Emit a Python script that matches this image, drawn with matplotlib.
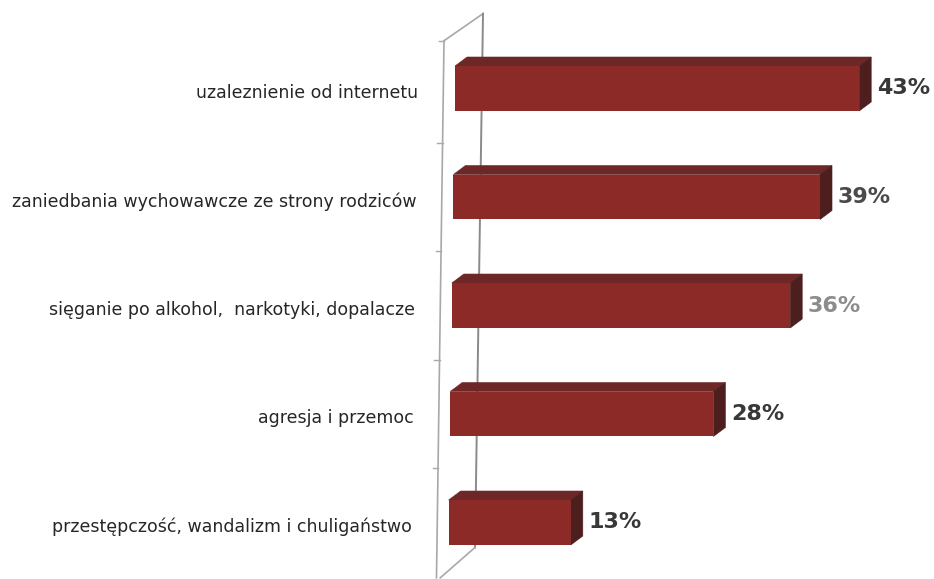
import matplotlib
matplotlib.use("Agg")
import matplotlib.pyplot as plt
from matplotlib.patches import Polygon

# dane z wykresu (kolejnosc od gory)
categories = [
    "uzaleznienie od internetu",
    "zaniedbania wychowawcze ze strony rodziców",
    "sięganie po alkohol,  narkotyki, dopalacze",
    "agresja i przemoc",
    "przestępczość, wandalizm i chuligaństwo",
]
values = [43, 39, 36, 28, 13]
value_labels = ["43%", "39%", "36%", "28%", "13%"]
value_colors = ["#383838", "#4a4a4a", "#8c8c8c", "#383838", "#383838"]

FRONT = "#8c2a27"
TOP = "#6e2727"
SIDE = "#4c1e1e"
WALL = "#a8a8a8"

W, H = 934, 579
PX_PER_PCT = 9.4
ROW_PX = 108.5
X0_PX, Y0_PX = 452, 88.5

fig = plt.figure(figsize=(W / 100, H / 100), dpi=100)
ax = fig.add_axes([0, 0, 1, 1])
ax.set_xlim(-X0_PX / PX_PER_PCT, (W - X0_PX) / PX_PER_PCT)
ax.set_ylim((H - Y0_PX) / ROW_PX, -Y0_PX / ROW_PX)
ax.axis("off")

bar_h = 45 / ROW_PX
dx = 12 / PX_PER_PCT      # glebokosc 3D w poziomie
dy = -9 / ROW_PX          # glebokosc 3D w pionie
tilt = -0.17              # lekkie przechylenie sciany na kategorie


def wall_x(y, x_top, y_top, x_bot, y_bot):
    return x_top + (x_bot - x_top) * (y - y_top) / (y_bot - y_top)


# sciana (os kategorii) w perspektywie
front_top, front_bot = (-0.85, -0.44), (-1.65, 4.51)
back_top, back_bot = (3.3, -0.69), (2.45, 4.23)
ax.plot([front_top[0], front_bot[0]], [front_top[1], front_bot[1]], color=WALL, lw=1.2, zorder=1)
ax.plot([front_top[0], back_top[0]], [front_top[1], back_top[1]], color=WALL, lw=1.2, zorder=1)
ax.plot([back_top[0], back_bot[0]], [back_top[1], back_bot[1]], color="#8a8a8a", lw=1.4, zorder=1)
ax.plot([back_bot[0], front_bot[0] + 0.4], [back_bot[1], front_bot[1]], color=WALL, lw=1.2, zorder=1)
for yt in [front_top[1], 0.5, 1.5, 2.5, 3.5]:
    xt = wall_x(yt, *front_top, *front_bot)
    ax.plot([xt - 0.55, xt], [yt, yt], color=WALL, lw=1.0, zorder=1)

for i, (cat, v) in enumerate(zip(categories, values)):
    x0 = 0.32 + tilt * i
    x1 = x0 + v
    yt, yb = i - bar_h / 2, i + bar_h / 2
    top = Polygon([(x0, yt), (x0 + dx, yt + dy), (x1 + dx, yt + dy), (x1, yt)],
                  closed=True, fc=TOP, ec=TOP, lw=0.4, zorder=3)
    side = Polygon([(x1, yt), (x1 + dx, yt + dy), (x1 + dx, yb + dy), (x1, yb)],
                   closed=True, fc=SIDE, ec=SIDE, lw=0.4, zorder=3)
    front = Polygon([(x0, yt), (x1, yt), (x1, yb), (x0, yb)],
                    closed=True, fc=FRONT, ec="none", zorder=4)
    for p in (top, side, front):
        ax.add_patch(p)

    ax.text(x0 - 3.9, i + 0.04, cat, ha="right", va="center",
            fontsize=12.5, color="#262626", family="DejaVu Sans")
    ax.text(x1 + dx + 0.6, i, value_labels[i], ha="left", va="center",
            fontsize=16, fontweight="bold", color=value_colors[i], family="DejaVu Sans")

fig.savefig("out.png", dpi=100, facecolor="white")
